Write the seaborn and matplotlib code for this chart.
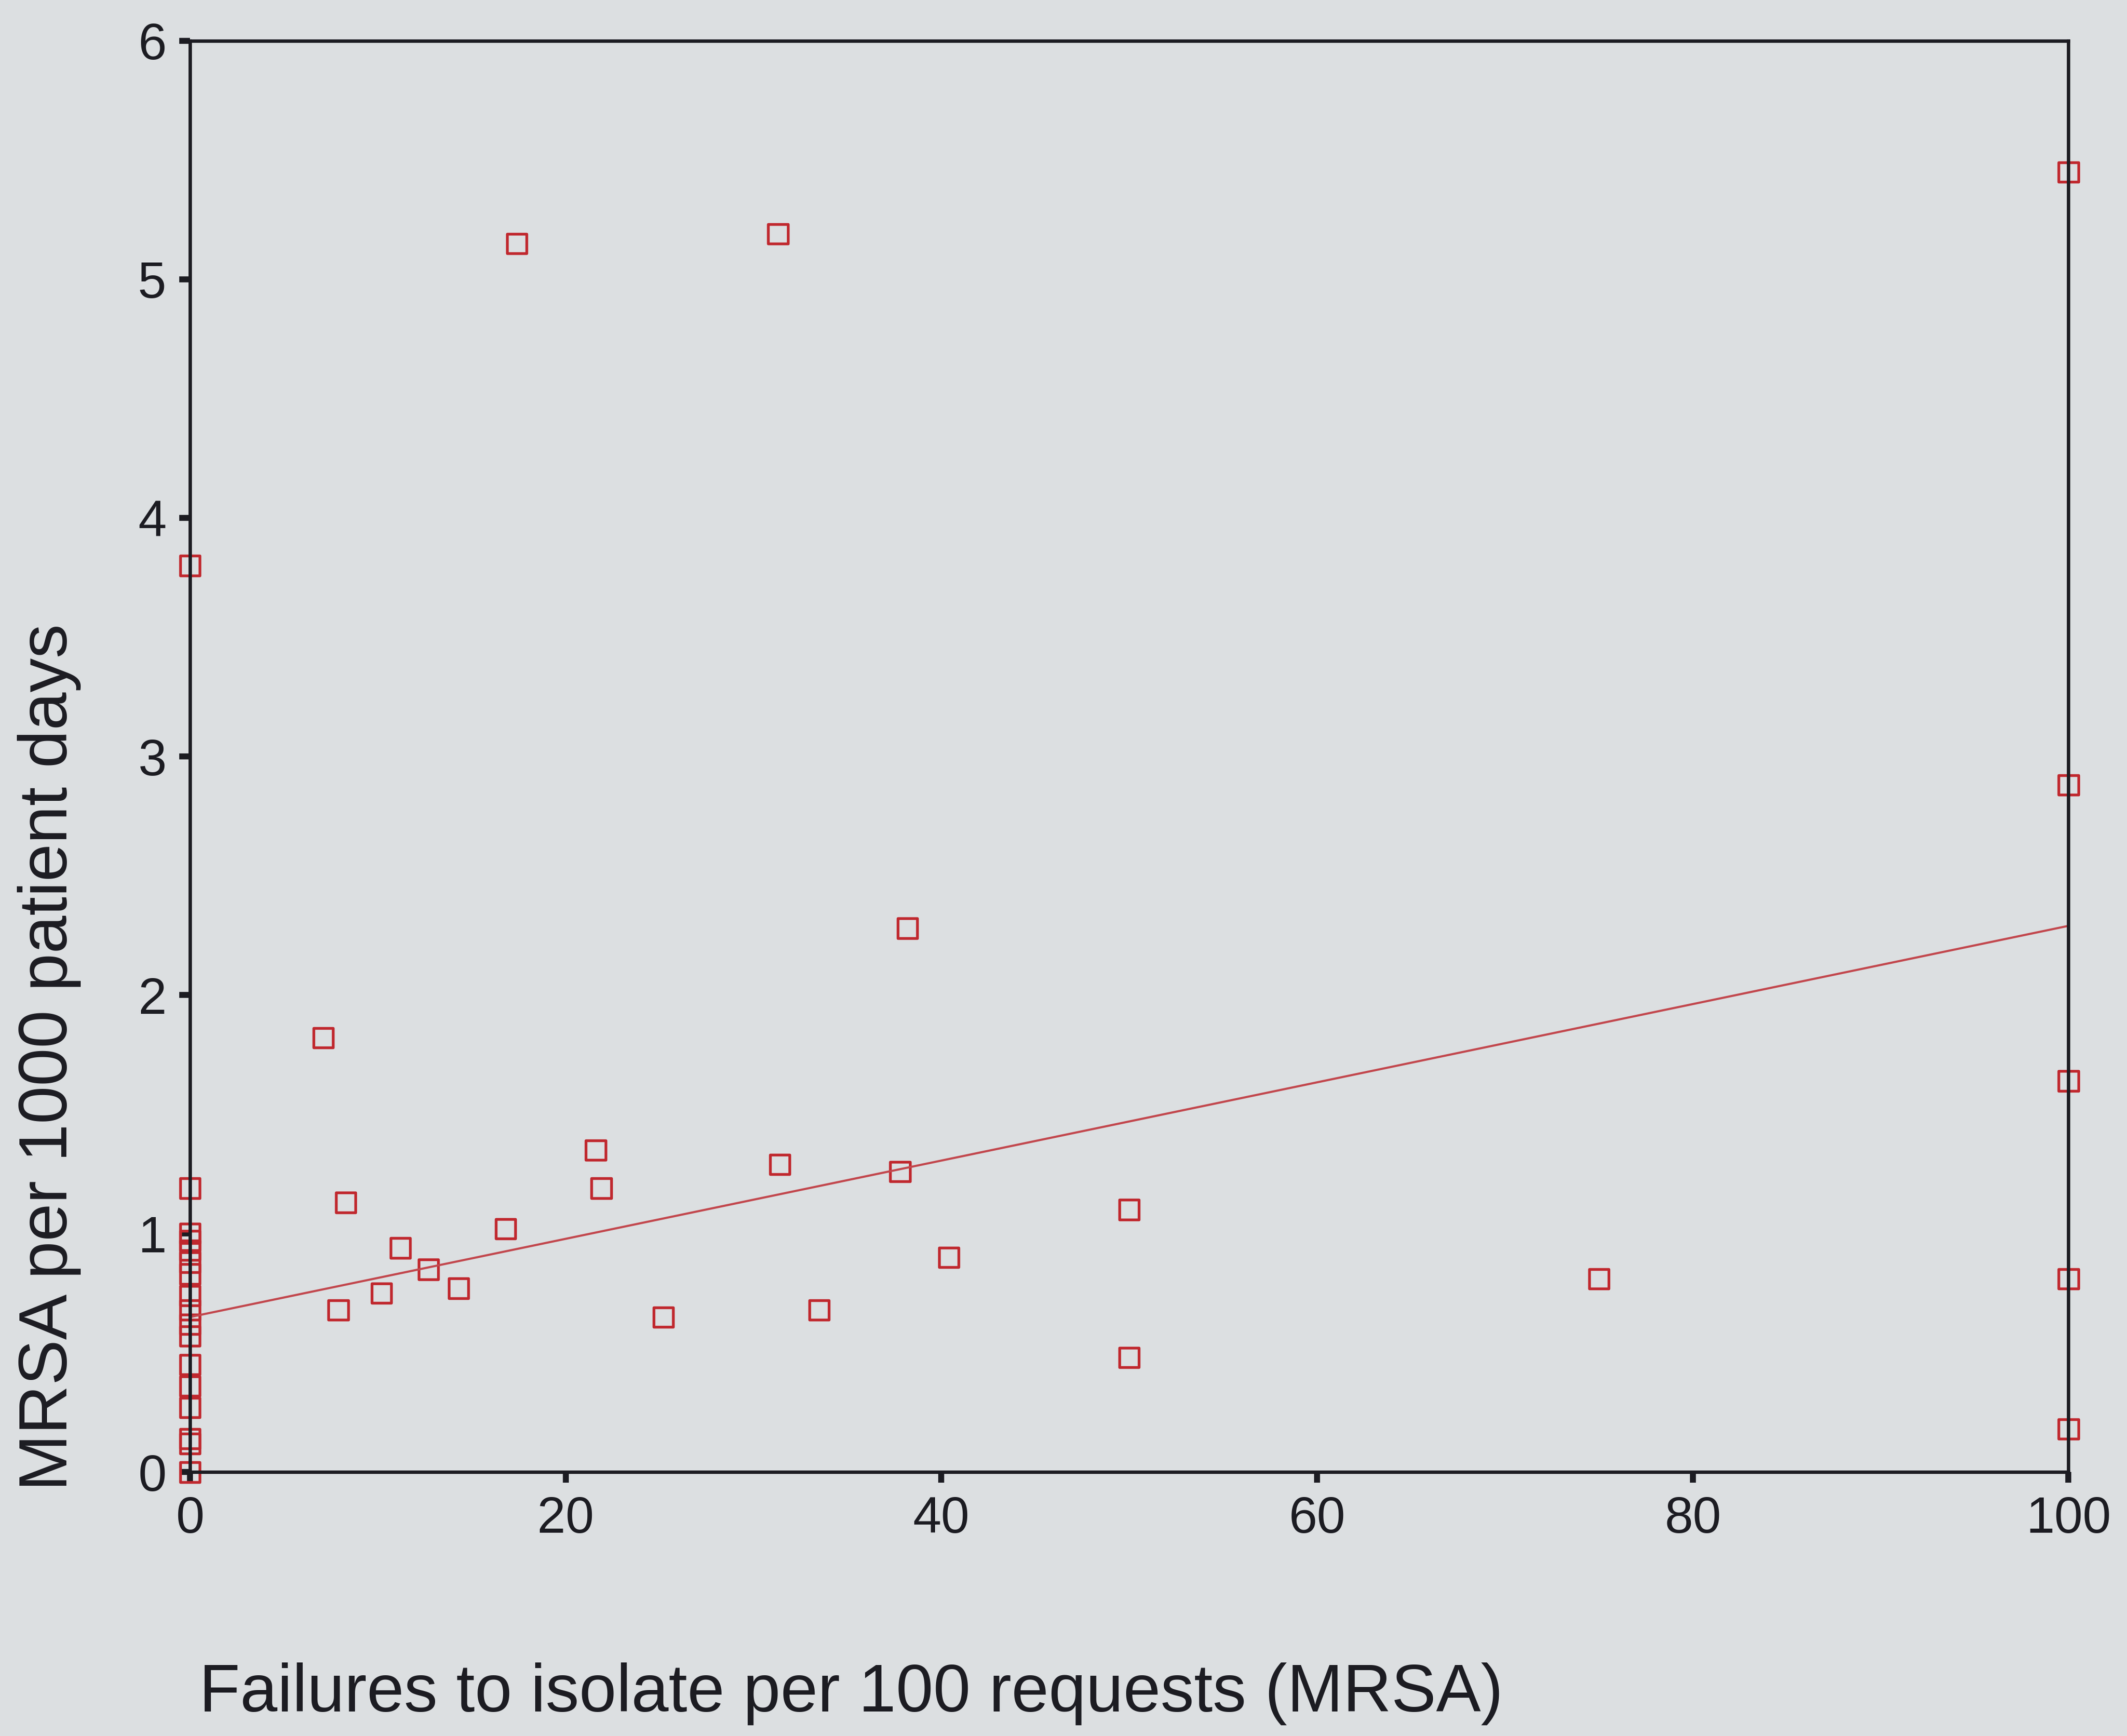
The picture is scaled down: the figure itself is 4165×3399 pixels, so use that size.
import matplotlib
matplotlib.use("Agg")
import matplotlib.pyplot as plt
import seaborn as sns
import pandas as pd

# Failures to isolate per 100 requests (x) vs MRSA per 1000 patient days (y)
failures_per_100 = [
    0, 0, 0, 0, 0, 0, 0, 0, 0, 0, 0, 0, 0, 0, 0, 0, 0,
    17.4, 31.3, 100, 100, 38.2, 7.1, 100, 21.6, 31.4, 37.8, 21.9, 8.3, 50,
    16.8, 11.2, 40.4, 12.7, 75, 100, 14.3, 10.2, 7.9, 33.5, 25.2, 50, 100,
]
mrsa_per_1000 = [
    3.80, 1.19, 1.00, 0.97, 0.93, 0.88, 0.83, 0.74, 0.68, 0.62, 0.57, 0.45,
    0.36, 0.27, 0.14, 0.12, 0.00,
    5.15, 5.19, 5.45, 2.88, 2.28, 1.82, 1.64, 1.35, 1.29, 1.26, 1.19, 1.13, 1.10,
    1.02, 0.94, 0.90, 0.85, 0.81, 0.81, 0.77, 0.75, 0.68, 0.68, 0.65, 0.48, 0.18,
]

# fitted line as printed on the chart (ends)
fit_x = [0, 100]
fit_y = [0.65, 2.29]

x_ticks = [0, 20, 40, 60, 80, 100]
y_ticks = [0, 1, 2, 3, 4, 5, 6]

df = pd.DataFrame({"failures": failures_per_100, "mrsa": mrsa_per_1000})
df_fit = pd.DataFrame({"failures": fit_x, "mrsa": fit_y})

bg = "#dcdfe1"
red = "#c0282e"
ink = "#1c1c22"

sns.set_style("white")
plt.rcParams["font.family"] = ["Liberation Sans", "DejaVu Sans"]

fig = plt.figure(figsize=(4165 / 300, 3399 / 300), dpi=300, facecolor=bg)
ax = fig.add_axes([0.0893, 0.152, 0.8832, 0.8245])
ax.set_facecolor(bg)

sns.lineplot(data=df_fit, x="failures", y="mrsa", ax=ax, color="#c2474d",
             linewidth=1.0, zorder=2)
sns.scatterplot(data=df, x="failures", y="mrsa", ax=ax, marker="s", s=85,
                facecolor="none", edgecolor=red, linewidth=1.3,
                clip_on=False, zorder=1)

ax.set_xlim(0, 100)
ax.set_ylim(0, 6)
ax.set_xticks(x_ticks)
ax.set_yticks(y_ticks)

for side in ["left", "right", "top", "bottom"]:
    ax.spines[side].set_visible(True)
    ax.spines[side].set_color(ink)
    ax.spines[side].set_linewidth(1.6)

ax.tick_params(axis="both", direction="out", length=5, width=2.8, color=ink,
               labelcolor=ink, labelsize=24, bottom=True, left=True,
               top=False, right=False)
ax.tick_params(axis="x", pad=6)
ax.tick_params(axis="y", pad=6)

ax.set_xlabel("Failures to isolate per 100 requests (MRSA)", fontsize=31.5,
              color=ink)
ax.set_ylabel("MRSA per 1000 patient days", fontsize=32, color=ink)
ax.xaxis.set_label_coords(0.352, -0.133)
ax.yaxis.set_label_coords(-0.058, 0.29)

fig.savefig("out.png", dpi=300, facecolor=bg)
